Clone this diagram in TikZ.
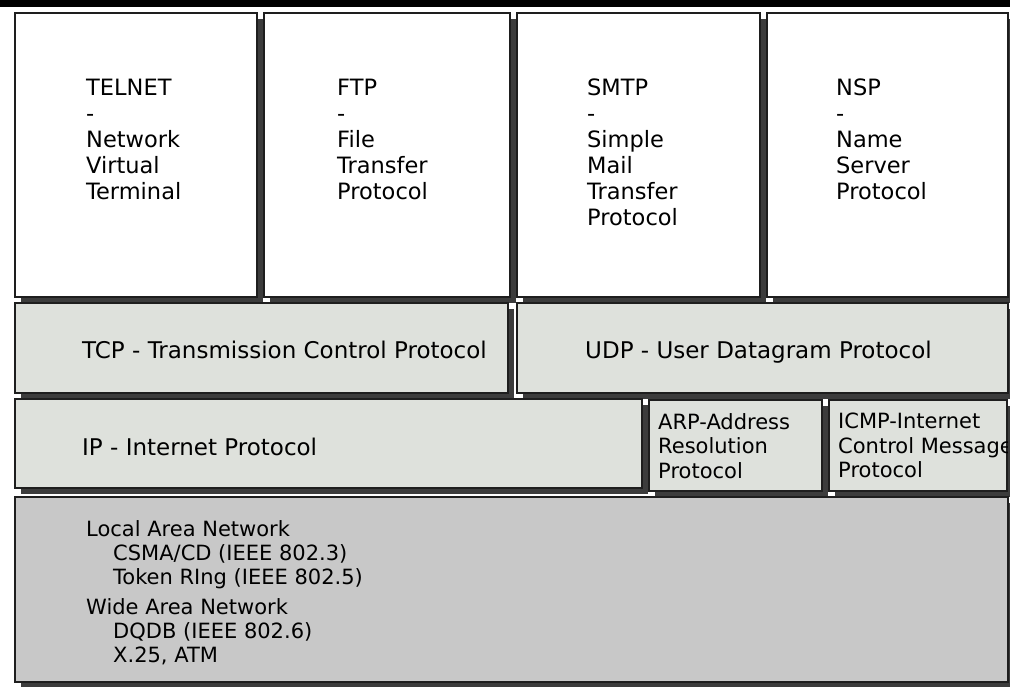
\documentclass[tikz,border=0pt]{standalone}
\usepackage{fontspec}
\setmainfont{DejaVu Sans}
\usetikzlibrary{shadows}
\definecolor{shade}{HTML}{3C3C3C}
\definecolor{boxline}{HTML}{1E1E1E}
\definecolor{lightfill}{HTML}{DEE1DC}
\definecolor{lanfill}{HTML}{C8C8C8}
\begin{document}
\begin{tikzpicture}[x=1pt,y=-1pt,
  box/.style={draw=boxline, line width=1.2pt, anchor=north west, inner sep=0pt, outer sep=0pt,
    drop shadow={shadow xshift=6pt, shadow yshift=-6pt, fill=shade, opacity=1}},
  topbox/.style={box, fill=white},
  midbox/.style={box, fill=lightfill},
  lanbox/.style={box, fill=lanfill},
  toptxt/.style={anchor=north west, inner sep=0pt, align=left, font=\fontsize{22.5}{26}\selectfont},
  rowtxt/.style={anchor=base west, inner sep=0pt, font=\fontsize{23}{26}\selectfont},
  smalltxt/.style={anchor=north west, inner sep=0pt, align=left, font=\fontsize{21}{24.5}\selectfont},
  lantxt/.style={anchor=north west, inner sep=0pt, align=left, font=\fontsize{21}{24}\selectfont}]
\useasboundingbox (0,0) rectangle (1010,687);
\clip (0,0) rectangle (1010,687);
\fill[black] (0,0) rectangle (1010,7);
% top row
\node[topbox, minimum width=242pt, minimum height=284pt] (telnet) at (15,13) {};
\node[topbox, minimum width=246pt, minimum height=284pt] (ftp) at (264,13) {};
\node[topbox, minimum width=243pt, minimum height=284pt] (smtp) at (517,13) {};
\node[topbox, minimum width=241pt, minimum height=284pt] (nsp) at (767,13) {};
% second row
\node[midbox, minimum width=493pt, minimum height=90pt] (tcp) at (15,303) {};
\node[midbox, minimum width=491pt, minimum height=90pt] (udp) at (517,303) {};
% third row
\node[midbox, minimum width=627pt, minimum height=89pt] (ip) at (15,399) {};
\node[midbox, minimum width=173pt, minimum height=91pt] (arp) at (649,400) {};
\node[midbox, minimum width=178pt, minimum height=91pt] (icmp) at (829,400) {};
% bottom
\node[lanbox, minimum width=993pt, minimum height=185pt] (lan) at (15,497) {};
% texts
\node[toptxt] (telnett) at (86,79) {TELNET\\-\\Network\\Virtual\\Terminal};
\node[toptxt] (ftpt) at (337,79) {FTP\\-\\File\\Transfer\\Protocol};
\node[toptxt] (smtpt) at (587,79) {SMTP\\-\\Simple\\Mail\\Transfer\\Protocol};
\node[toptxt] (nspt) at (836,79) {NSP\\-\\Name\\Server\\Protocol};
\node[rowtxt] (tcpt) at (82,358) {TCP - Transmission Control Protocol};
\node[rowtxt] (udpt) at (585,358) {UDP - User Datagram Protocol};
\node[rowtxt] (ipt) at (82,455) {IP - Internet Protocol};
\node[smalltxt] (arpt) at (658,413) {ARP-Address\\Resolution\\Protocol};
\begin{scope}
\clip (icmp.north west) rectangle (icmp.south east);
\node[smalltxt] (icmpt) at (838,413) {ICMP-Internet\\Control Message\\Protocol};
\end{scope}
\node[lantxt] (lant) at (86,520) {Local Area Network\\\hspace*{27pt}CSMA/CD (IEEE 802.3)\\\hspace*{27pt}Token RIng (IEEE 802.5)\\[6pt]Wide Area Network\\\hspace*{27pt}DQDB (IEEE 802.6)\\\hspace*{27pt}X.25, ATM};
\end{tikzpicture}
\end{document}
